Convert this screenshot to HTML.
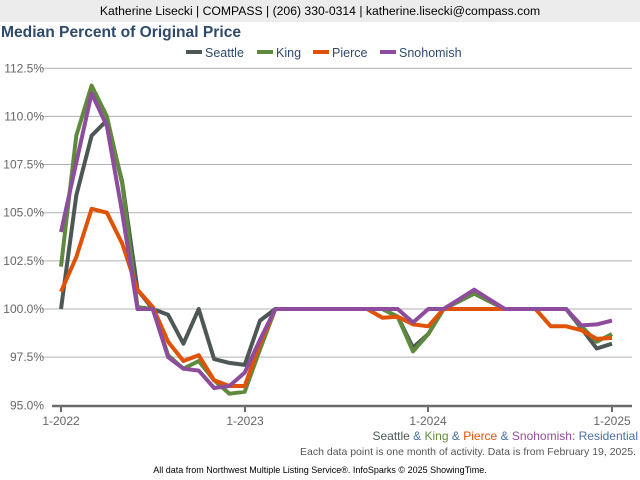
<!DOCTYPE html>
<html><head><meta charset="utf-8"><style>
body{margin:0;width:640px;height:480px;background:#fff;font-family:"Liberation Sans",sans-serif;overflow:hidden;position:relative}
.hdr{position:absolute;left:0;top:0;width:640px;height:22px;background:#ececec;font-size:12.2px;text-align:center;line-height:22px;color:#000}
.ttl{position:absolute;left:1px;top:24px;font-size:15.6px;font-weight:bold;color:#2e4a6b}
svg{position:absolute;left:0;top:0}
</style></head><body>
<div class="hdr">Katherine Lisecki | COMPASS | (206) 330-0314 | katherine.lisecki@compass.com</div>
<div class="ttl">Median Percent of Original Price</div>
<svg id="s" width="640" height="480" xmlns="http://www.w3.org/2000/svg" font-family="Liberation Sans, sans-serif">
<g font-size="12.5" fill="#2e4a6b">
<rect x="186" y="50" width="16" height="4" fill="#4d5756"/><text x="205" y="57">Seattle</text>
<rect x="257" y="50" width="16" height="4" fill="#5f8a3e"/><text x="276" y="57">King</text>
<rect x="313" y="50" width="16" height="4" fill="#e05206"/><text x="332" y="57">Pierce</text>
<rect x="380" y="50" width="16" height="4" fill="#8e4c9c"/><text x="399" y="57">Snohomish</text>
</g>
<g stroke="#b0b0b0" stroke-width="1" id="grid"></g>
<g font-size="12" fill="#666" text-anchor="end" id="ylab"></g>
<line x1="52" y1="406" x2="632" y2="406" stroke="#6b6b6b" stroke-width="2.5"/>
<g stroke="#6b6b6b" stroke-width="2"><line x1="61" y1="406" x2="61" y2="412"/><line x1="245" y1="406" x2="245" y2="412"/><line x1="428" y1="406" x2="428" y2="412"/><line x1="612" y1="406" x2="612" y2="412"/></g>
<g font-size="12" fill="#666" text-anchor="middle"><text x="61" y="425">1-2022</text><text x="245" y="425">1-2023</text><text x="428" y="425">1-2024</text><text x="612" y="425">1-2025</text></g>
<g id="lines" fill="none" stroke-width="4" stroke-linejoin="round"></g>
<text x="638" y="440" font-size="12" text-anchor="end"><tspan fill="#4d5756">Seattle</tspan><tspan fill="#4a6fa5"> &amp; </tspan><tspan fill="#5f8a3e">King</tspan><tspan fill="#4a6fa5"> &amp; </tspan><tspan fill="#e05206">Pierce</tspan><tspan fill="#4a6fa5"> &amp; </tspan><tspan fill="#8e4c9c">Snohomish</tspan><tspan fill="#4a6fa5">: Residential</tspan></text>
<text x="636" y="455" font-size="10.5" fill="#555" text-anchor="end">Each data point is one month of activity. Data is from February 19, 2025.</text>
<text x="320" y="473" font-size="9" fill="#000" text-anchor="middle">All data from Northwest Multiple Listing Service®. InfoSparks © 2025 ShowingTime.</text>
</svg>
<script>
var ns="http://www.w3.org/2000/svg";
function Y(v){return 309-(v-100)*19.26}
function X(m){return 61+m*15.305}
var g=document.getElementById('grid'),yl=document.getElementById('ylab');
for(var v=95;v<=112.5;v+=2.5){if(v>95){var l=document.createElementNS(ns,'line');l.setAttribute('x1',42);l.setAttribute('x2',632);l.setAttribute('y1',Y(v));l.setAttribute('y2',Y(v));g.appendChild(l);}
var t=document.createElementNS(ns,'text');t.setAttribute('x',44);t.setAttribute('y',Y(v)+4);t.textContent=v.toFixed(1)+'%';yl.appendChild(t);}
var S={
'#4d5756':[100,105.9,109,109.8,106.6,101,100,99.7,98.2,100,97.4,97.2,97.1,99.4,100,100,100,100,100,100,100,100,99.6,98,98.7,100,100.4,100.8,100.4,100,100,100,100,100,99,97.95,98.2],
'#5f8a3e':[102.2,109,111.6,110,106.5,100.1,100,97.6,96.9,97.3,96.3,95.6,95.7,97.9,100,100,100,100,100,100,100,100,99.6,97.8,98.7,100,100.4,100.8,100.4,100,100,100,100,100,99.1,98.3,98.7],
'#e05206':[100.9,102.7,105.2,105,103.4,101,100.1,98.3,97.3,97.6,96.3,96,96,98.2,100,100,100,100,100,100,100,99.55,99.6,99.2,99.1,100,100,100,100,100,100,100,99.1,99.1,98.9,98.45,98.5],
'#8e4c9c':[104,107.6,111.2,109.5,105,100,100,97.5,96.9,96.8,95.9,96,96.7,98.4,100,100,100,100,100,100,100,100,100,99.3,100,100,100.5,101,100.5,100,100,100,100,100,99.15,99.2,99.4]};
var L=document.getElementById('lines');
for(var c in S){var p=S[c].map(function(v,i){return X(i).toFixed(1)+','+Y(v).toFixed(1)}).join(' ');
var e=document.createElementNS(ns,'polyline');e.setAttribute('points',p);e.setAttribute('stroke',c);L.appendChild(e);}
</script>
</body></html>
